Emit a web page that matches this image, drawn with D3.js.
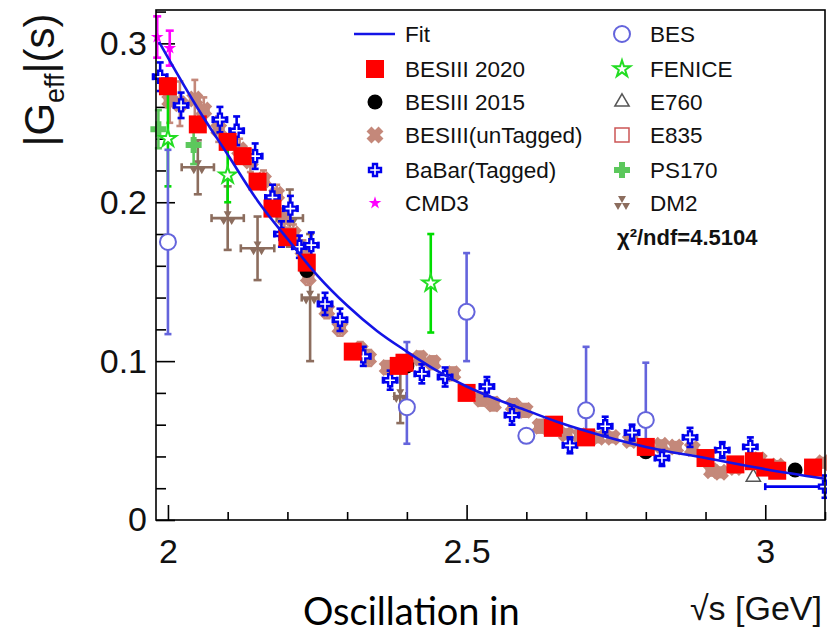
<!DOCTYPE html>
<html lang="en">
<head>
<meta charset="utf-8">
<title>|Geff| vs sqrt(s)</title>
<script src="https://cdn.jsdelivr.net/npm/d3@7"></script>
<style>
  body { margin: 0; background: #ffffff; }
  svg { display: block; font-family: "Liberation Sans", Arial, sans-serif; }
</style>
</head>
<body>
<script>
// every point: [sqrt(s) in GeV, |Geff|, y error (down), x error, y error up (optional)]
var fitCurve = [[1.985,0.301],[2.0,0.291],[2.05,0.259],[2.1,0.230],[2.15,0.201],[2.2,0.177],[2.25,0.154],
  [2.3,0.135],[2.35,0.119],[2.4,0.106],[2.45,0.094],[2.5,0.084],[2.55,0.076],[2.6,0.069],[2.65,0.062],
  [2.7,0.056],[2.8,0.046],[2.9,0.039],[3.0,0.032],[3.1,0.026]];

var besiii2020 = [[2.0,0.273,0.005,0],[2.05,0.249,0.005,0],[2.1,0.238,0.005,0],[2.125,0.229,0.004,0],
  [2.15,0.213,0.004,0],[2.175,0.196,0.004,0],[2.2,0.178,0.004,0],[2.2324,0.162,0.004,0],[2.3094,0.106,0.004,0],
  [2.3864,0.097,0.004,0],[2.396,0.099,0.003,0],[2.5,0.080,0.004,0],[2.6444,0.058,0.003,0],[2.6464,0.060,0.003,0],
  [2.7,0.052,0.004,0],[2.8,0.046,0.004,0],[2.9,0.039,0.003,0],[2.95,0.035,0.003,0],[2.981,0.037,0.003,0],
  [3.0,0.033,0.003,0],[3.02,0.031,0.003,0],[3.08,0.033,0.002,0]];

var besiii2015 = [[2.2324,0.157,0.004,0],[2.4,0.097,0.004,0],[2.8,0.043,0.004,0],[3.05,0.0315,0.002,0]];

var untagged = [[2.003,0.264,0.014,0.008],[2.02,0.262,0.014,0.008],[2.045,0.265,0.012,0.008],[2.06,0.258,0.008,0.008],
  [2.085,0.246,0.008,0.008],[2.12,0.233,0.007,0.008],[2.138,0.226,0.007,0.008],[2.16,0.214,0.006,0.008],
  [2.182,0.205,0.006,0.008],[2.195,0.190,0.006,0.008],[2.21,0.180,0.006,0.008],[2.226,0.170,0.006,0.008],
  [2.235,0.153,0.005,0.008],[2.266,0.132,0.005,0.008],[2.288,0.121,0.005,0.008],[2.322,0.107,0.005,0.008],
  [2.336,0.102,0.005,0.008],[2.367,0.096,0.004,0.008],[2.422,0.102,0.004,0.008],[2.444,0.099,0.004,0.008],
  [2.477,0.092,0.004,0.008],[2.525,0.076,0.004,0.008],[2.545,0.073,0.004,0.008],[2.578,0.072,0.004,0.008],
  [2.598,0.069,0.004,0.008],[2.623,0.059,0.004,0.008],[2.667,0.054,0.003,0.008],[2.69,0.053,0.003,0.008],
  [2.72,0.052,0.003,0.008],[2.744,0.052,0.003,0.008],[2.774,0.050,0.003,0.008],[2.826,0.047,0.003,0.008],
  [2.85,0.046,0.003,0.008],[2.878,0.045,0.003,0.008],[2.91,0.031,0.003,0.008],[2.925,0.030,0.003,0.008],
  [2.95,0.033,0.003,0.008],[2.99,0.038,0.003,0.008],[3.02,0.034,0.003,0.008],[3.097,0.036,0.003,0.008]];

var babar = [[1.987,0.279,0.009,0.012],[2.022,0.261,0.008,0.012],[2.087,0.252,0.008,0.012],[2.115,0.245,0.009,0.012],
  [2.146,0.229,0.008,0.012],[2.175,0.203,0.008,0.012],[2.19,0.180,0.008,0.012],[2.205,0.196,0.008,0.012],
  [2.22,0.172,0.007,0.012],[2.24,0.173,0.008,0.012],[2.263,0.136,0.007,0.012],[2.288,0.126,0.007,0.012],
  [2.327,0.103,0.006,0.012],[2.372,0.088,0.006,0.012],[2.425,0.092,0.006,0.012],[2.464,0.090,0.006,0.012],
  [2.534,0.084,0.006,0.012],[2.576,0.066,0.006,0.012],[2.673,0.047,0.005,0.012],[2.732,0.059,0.006,0.012],
  [2.777,0.055,0.005,0.012],[2.827,0.039,0.005,0.012],[2.874,0.052,0.006,0.012],[2.928,0.044,0.005,0.012],
  [2.975,0.046,0.006,0.012],[3.10,0.021,0.007,0.1]];

var cmd3 = [[1.982,0.304,0.013,0],[2.003,0.297,0.011,0]];

var bes = [[2.0,0.175,0.058,0],[2.4,0.071,0.023,0,0.041],[2.5,0.131,0.031,0,0.037],[2.6,0.053,0.004,0],
  [2.7,0.069,0.015,0,0.04],[2.8,0.063,0.015,0,0.036]];

var fenice = [[2.0,0.240,0.030,0],[2.1,0.217,0.017,0],[2.44,0.149,0.031,0]];

var e760 = [[2.98,0.027,0.003,0]];
var e835 = [];

var ps170 = [[1.984,0.246,0.012,0],[2.043,0.236,0.012,0]];

var dm2 = [[2.05,0.222,0.017,0.027],[2.1,0.190,0.020,0.027],[2.15,0.171,0.020,0.028],[2.204,0.190,0.018,0.022],
  [2.238,0.140,0.040,0.014],[2.389,0.078,0.017,0.010]];

var xTicks = [2, 2.5, 3];
var yTicks = [0, 0.1, 0.2, 0.3];
var chiText = "χ²/ndf=4.5104";

var w = 827, h = 632;

var svg = d3.select("body").append("svg").attr("width", w).attr("height", h);

var xScale = d3.scaleLinear().domain([1.98, 3.10]).range([156, 825]);
var yScale = d3.scaleLinear().domain([0, 0.321]).range([520, 10]);

//axes, ticks inward like ROOT
var minorX = d3.range(2.0, 3.101, 0.1).filter(function(v){ return Math.abs(v*2 - Math.round(v*2)) > 1e-6; });
var minorY = d3.range(0.02, 0.321, 0.02).filter(function(v){ return Math.abs(v*10 - Math.round(v*10)) > 1e-6; });

function styleAxis(g) {
  g.select(".domain").remove();
  g.selectAll("line").attr("stroke", "#000").attr("stroke-width", 1.6);
  g.selectAll("text").attr("font-size", 34).attr("fill", "#111").attr("font-family", "'Liberation Sans', Arial, sans-serif");
}

svg.append("g").attr("transform", "translate(0,520)")
  .call(d3.axisBottom(xScale).tickValues(xTicks).tickSizeInner(-15).tickSizeOuter(0).tickPadding(19)
    .tickFormat(function(d){ return d; }))
  .call(styleAxis);
svg.append("g").attr("transform", "translate(0,520)")
  .call(d3.axisBottom(xScale).tickValues(minorX).tickSizeInner(-8).tickSizeOuter(0).tickFormat(""))
  .call(styleAxis);
svg.append("g").attr("transform", "translate(156,0)")
  .call(d3.axisLeft(yScale).tickValues(yTicks).tickSizeInner(-19).tickSizeOuter(0).tickPadding(9)
    .tickFormat(function(d){ return d; }))
  .call(styleAxis);
svg.append("g").attr("transform", "translate(156,0)")
  .call(d3.axisLeft(yScale).tickValues(minorY).tickSizeInner(-10).tickSizeOuter(0).tickFormat(""))
  .call(styleAxis);

//marker shapes
var sym = {
  square: function(s){ return "M" + (-s/2) + "," + (-s/2) + "h" + s + "v" + s + "h" + (-s) + "Z"; },
  circle: function(s){ return d3.symbol(d3.symbolCircle, s*s*Math.PI/4)(); },
  cross: function(s){ return d3.symbol(d3.symbolCross, 5*Math.pow(s/3,2))(); },
  fatCross: function(a, t){
    return "M" + (-t) + "," + (-a) + "H" + t + "V" + (-t) + "H" + a + "V" + t + "H" + t + "V" + a +
      "H" + (-t) + "V" + t + "H" + (-a) + "V" + (-t) + "H" + (-t) + "Z";
  },
  star: function(s){ return d3.symbol(d3.symbolStar, s*s*0.3)(); },
  triangle: function(s){ return d3.symbol(d3.symbolTriangle, s*s*0.45)(); },
  trefoil: function(s){
    var p = "", r = s/2;
    [-90, 30, 150].forEach(function(a){
      var a1 = (a-30)*Math.PI/180, a2 = (a+30)*Math.PI/180;
      p += "M0,0L" + (r*Math.cos(a1)) + "," + (r*Math.sin(a1)) + "L" + (r*Math.cos(a2)) + "," + (r*Math.sin(a2)) + "Z";
    });
    return p;
  }
};

var series = {
  besiii2020: {data: besiii2020, shape: sym.square(18), fill: "#ff0000", stroke: "none", bar: "#ff0000", cap: 0},
  besiii2015: {data: besiii2015, shape: sym.circle(15), fill: "#000000", stroke: "none", bar: "#000000", cap: 0},
  untagged: {data: untagged, shape: sym.fatCross(8.5, 3.5), rotate: 45, fill: "#c4887a", stroke: "none", bar: "#c4887a", cap: 7},
  babar: {data: babar, shape: sym.cross(12), fill: "#ffffff", stroke: "#0000ee", sw: 2.4, bar: "#0000ee", cap: 7},
  cmd3: {data: cmd3, shape: sym.star(13), fill: "#ff00ff", stroke: "none", bar: "#ff00ff", cap: 8},
  bes: {data: bes, shape: sym.circle(16), fill: "#ffffff", stroke: "#6464dc", sw: 2, bar: "#6464dc", cap: 7},
  fenice: {data: fenice, shape: sym.star(17), fill: "#ffffff", stroke: "#22dd22", sw: 2, bar: "#00dd00", cap: 7},
  e760: {data: e760, shape: sym.triangle(14), fill: "#ffffff", stroke: "#555555", sw: 1.5, bar: "#555555", cap: 0},
  e835: {data: e835, shape: sym.square(14), fill: "#ffffff", stroke: "#cc5555", sw: 1.5, bar: "#cc5555", cap: 0},
  ps170: {data: ps170, shape: sym.fatCross(8, 3), fill: "#5cc85c", stroke: "none", bar: "#5cc85c", cap: 7},
  dm2: {data: dm2, shape: sym.trefoil(16), fill: "#8c6d5e", stroke: "none", bar: "#8c6d5e", cap: 8}
};

svg.append("clipPath").attr("id", "frameClip").append("rect")
  .attr("x", 148).attr("y", 0).attr("width", 679).attr("height", 520);

var plot = svg.append("g").attr("clip-path", "url(#frameClip)");

function drawSeries(s) {
  var g = plot.append("g");
  var items = g.selectAll("g").data(s.data).enter().append("g");
  items.each(function(d){
    var el = d3.select(this);
    var cx = xScale(d[0]), cy = yScale(d[1]);
    var up = d[4] !== undefined ? d[4] : d[2];
    var y0 = yScale(d[1] - d[2]), y1 = yScale(d[1] + up);
    el.append("line").attr("x1", cx).attr("x2", cx).attr("y1", y0).attr("y2", y1);
    if (s.cap) {
      el.append("line").attr("x1", cx - s.cap/2).attr("x2", cx + s.cap/2).attr("y1", y0).attr("y2", y0);
      el.append("line").attr("x1", cx - s.cap/2).attr("x2", cx + s.cap/2).attr("y1", y1).attr("y2", y1);
    }
    if (d[3]) {
      var x0 = xScale(d[0] - d[3]), x1 = xScale(d[0] + d[3]);
      el.append("line").attr("x1", x0).attr("x2", x1).attr("y1", cy).attr("y2", cy);
      if (s.cap) {
        el.append("line").attr("x1", x0).attr("x2", x0).attr("y1", cy - s.cap/2).attr("y2", cy + s.cap/2);
        el.append("line").attr("x1", x1).attr("x2", x1).attr("y1", cy - s.cap/2).attr("y2", cy + s.cap/2);
      }
    }
  });
  items.selectAll("line").attr("stroke", s.bar).attr("stroke-width", 2.6);
  items.append("path")
    .attr("d", s.shape)
    .attr("transform", function(d){
      return "translate(" + xScale(d[0]) + "," + yScale(d[1]) + ")" + (s.rotate ? " rotate(" + s.rotate + ")" : "");
    })
    .attr("fill", s.fill)
    .attr("stroke", s.stroke)
    .attr("stroke-width", s.sw || 0);
}

// drawing order
["dm2", "untagged", "babar", "ps170", "fenice", "e760", "e835", "bes", "cmd3", "besiii2015", "besiii2020"]
  .forEach(function(k){ drawSeries(series[k]); });

//fit line on top
plot.append("path")
  .datum(fitCurve)
  .attr("d", d3.line().x(function(d){ return xScale(d[0]); }).y(function(d){ return yScale(d[1]); }).curve(d3.curveMonotoneX))
  .attr("fill", "none")
  .attr("stroke", "#1414e6")
  .attr("stroke-width", 2.6);

//frame
svg.append("rect").attr("x", 156).attr("y", 10).attr("width", 669).attr("height", 510)
  .attr("fill", "none").attr("stroke", "#000").attr("stroke-width", 1.6);

//legend
var legendRows = [
  {col: 0, row: 0, label: "Fit", line: true},
  {col: 0, row: 1, label: "BESIII 2020", key: "besiii2020"},
  {col: 0, row: 2, label: "BESIII 2015", key: "besiii2015"},
  {col: 0, row: 3, label: "BESIII(unTagged)", key: "untagged"},
  {col: 0, row: 4, label: "BaBar(Tagged)", key: "babar"},
  {col: 0, row: 5, label: "CMD3", key: "cmd3"},
  {col: 1, row: 0, label: "BES", key: "bes"},
  {col: 1, row: 1, label: "FENICE", key: "fenice"},
  {col: 1, row: 2, label: "E760", key: "e760"},
  {col: 1, row: 3, label: "E835", key: "e835"},
  {col: 1, row: 4, label: "PS170", key: "ps170"},
  {col: 1, row: 5, label: "DM2", key: "dm2"}
];
var rowY = [34, 69, 102, 135, 170, 203, 237];
var colMarkX = [375, 622], colTextX = [405, 650];

var legend = svg.append("g");
legendRows.forEach(function(r){
  var y = rowY[r.row];
  if (r.line) {
    legend.append("line").attr("x1", 354).attr("x2", 395).attr("y1", y).attr("y2", y)
      .attr("stroke", "#1414e6").attr("stroke-width", 2.6);
  } else {
    var s = series[r.key];
    legend.append("path").attr("d", s.shape)
      .attr("transform", "translate(" + colMarkX[r.col] + "," + y + ")" + (s.rotate ? " rotate(" + s.rotate + ")" : ""))
      .attr("fill", s.fill).attr("stroke", s.stroke).attr("stroke-width", s.sw || 0);
  }
  legend.append("text").attr("x", colTextX[r.col]).attr("y", y + 8)
    .attr("font-size", 22.5).attr("fill", "#111").text(r.label);
});
legend.append("text").attr("x", 617).attr("y", rowY[6] + 8)
  .attr("font-size", 22).attr("font-weight", "bold").attr("fill", "#111").text(chiText);

//axis titles
var yTitle = svg.append("text").attr("transform", "translate(54,80) rotate(-90)")
  .attr("text-anchor", "middle").attr("font-size", 42).attr("fill", "#111");
yTitle.append("tspan").text("|G");
yTitle.append("tspan").attr("font-size", 27).attr("dy", 10).text("eff");
yTitle.append("tspan").attr("dy", -10).text("|(s)");

svg.append("text").attr("x", 822).attr("y", 620).attr("text-anchor", "end")
  .attr("font-size", 34).attr("fill", "#111").text("√s [GeV]");

svg.append("text").attr("x", 303).attr("y", 625)
  .attr("font-family", "Lato, 'Open Sans', sans-serif").attr("font-size", 38).attr("fill", "#000")
  .text("Oscillation in");
</script>
</body>
</html>
